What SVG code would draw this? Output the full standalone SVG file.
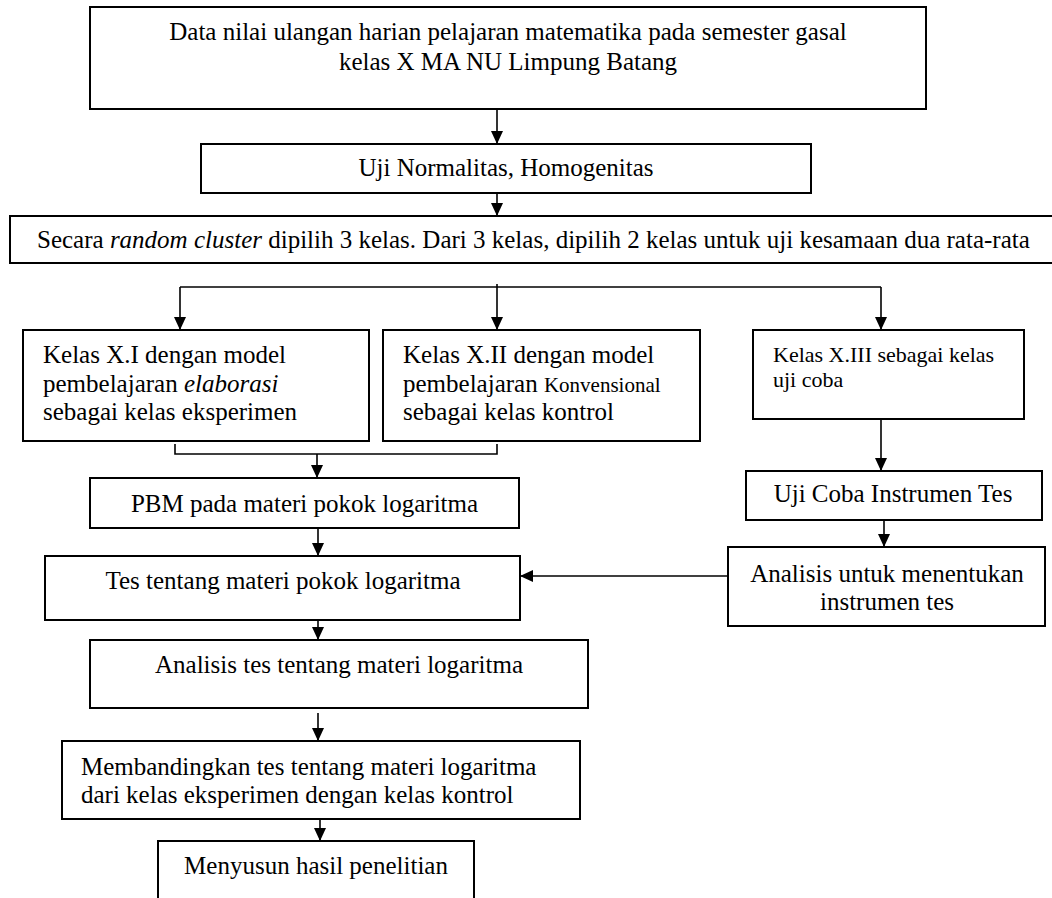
<svg xmlns="http://www.w3.org/2000/svg" width="1052" height="898" viewBox="0 0 1052 898">
<style>
.box{fill:#fff;stroke:#000;stroke-width:2}
.ln{fill:none;stroke:#000;stroke-width:1.6}
.arr{fill:none;stroke:#000;stroke-width:1.6;marker-end:url(#ah)}
text{font-family:"Liberation Serif","Times New Roman",serif;font-size:25px;fill:#000}
.c{text-anchor:middle}
.sm{font-size:22px}
.it{font-style:italic}
</style>
<defs>
<marker id="ah" viewBox="0 0 13 12" refX="13" refY="6" markerWidth="13" markerHeight="12" markerUnits="userSpaceOnUse" orient="auto">
<path d="M0,0 L13,6 L0,12 Z" fill="#000"/>
</marker>
</defs>
<rect width="1052" height="898" fill="#fff"/>
<g id="connectors">
<line class="arr" x1="497" y1="109" x2="497" y2="144"/>
<line class="arr" x1="497" y1="193" x2="497" y2="216"/>
<polyline class="ln" points="180,287 881,287"/>
<line class="ln" x1="497" y1="284" x2="497" y2="287"/>
<line class="arr" x1="180" y1="287" x2="180" y2="330"/>
<line class="arr" x1="497" y1="287" x2="497" y2="330"/>
<line class="arr" x1="881" y1="287" x2="881" y2="330"/>
<polyline class="ln" points="175,444 175,454 497,454 497,444"/>
<line class="arr" x1="317" y1="454" x2="317" y2="478"/>
<line class="arr" x1="318" y1="528" x2="318" y2="556"/>
<line class="arr" x1="318" y1="614" x2="318" y2="640"/>
<line class="arr" x1="318" y1="713" x2="318" y2="741"/>
<line class="arr" x1="320" y1="815" x2="320" y2="841"/>
<line class="arr" x1="881" y1="419" x2="881" y2="471"/>
<line class="arr" x1="884" y1="520" x2="884" y2="547"/>
<line class="arr" x1="728" y1="576" x2="520" y2="576"/>
</g>
<g id="n1">
<rect class="box" x="90" y="7" width="836" height="102"/>
<text class="c" x="508" y="40">Data nilai ulangan harian pelajaran matematika pada semester gasal</text>
<text class="c" x="508" y="70">kelas X MA NU Limpung Batang</text>
</g>
<g id="n2">
<rect class="box" x="201" y="144" width="610" height="49"/>
<text class="c" x="506" y="176">Uji Normalitas, Homogenitas</text>
</g>
<g id="n3">
<rect class="box" x="10" y="216" width="1060" height="47"/>
<text x="37" y="248">Secara <tspan class="it">random cluster</tspan> dipilih 3 kelas. Dari 3 kelas, dipilih 2 kelas untuk uji kesamaan dua rata-rata</text>
</g>
<g id="n4">
<rect class="box" x="23" y="330" width="346" height="111"/>
<text x="43" y="363">Kelas X.I dengan model</text>
<text x="43" y="392">pembelajaran <tspan class="it">elaborasi</tspan></text>
<text x="43" y="420">sebagai kelas eksperimen</text>
</g>
<g id="n5">
<rect class="box" x="383" y="330" width="317" height="111"/>
<text x="403" y="363">Kelas X.II dengan model</text>
<text x="403" y="392">pembelajaran <tspan font-size="21">Konvensional</tspan></text>
<text x="403" y="420">sebagai kelas kontrol</text>
</g>
<g id="n6">
<rect class="box" x="753" y="330" width="271" height="89"/>
<text class="sm" x="773" y="362">Kelas X.III sebagai kelas</text>
<text class="sm" x="773" y="387">uji coba</text>
</g>
<g id="n7">
<rect class="box" x="90" y="478" width="429" height="50"/>
<text class="c" x="304.5" y="512">PBM pada materi pokok logaritma</text>
</g>
<g id="n8">
<rect class="box" x="45" y="556" width="475" height="64"/>
<text class="c" x="283" y="589">Tes tentang materi pokok logaritma</text>
</g>
<g id="n9">
<rect class="box" x="746" y="471" width="296" height="49"/>
<text class="c" x="893" y="502">Uji Coba Instrumen Tes</text>
</g>
<g id="n10">
<rect class="box" x="728" y="547" width="317" height="79"/>
<text class="c" x="887" y="582">Analisis untuk menentukan</text>
<text class="c" x="887" y="610">instrumen tes</text>
</g>
<g id="n11">
<rect class="box" x="90" y="640" width="498" height="68"/>
<text class="c" x="339" y="673">Analisis tes tentang materi logaritma</text>
</g>
<g id="n12">
<rect class="box" x="62" y="741" width="518" height="78"/>
<text x="81" y="775">Membandingkan tes tentang materi logaritma</text>
<text x="81" y="803">dari kelas eksperimen dengan kelas kontrol</text>
</g>
<g id="n13">
<rect class="box" x="158" y="841" width="316" height="70"/>
<text class="c" x="316" y="874">Menyusun hasil penelitian</text>
</g>
</svg>
